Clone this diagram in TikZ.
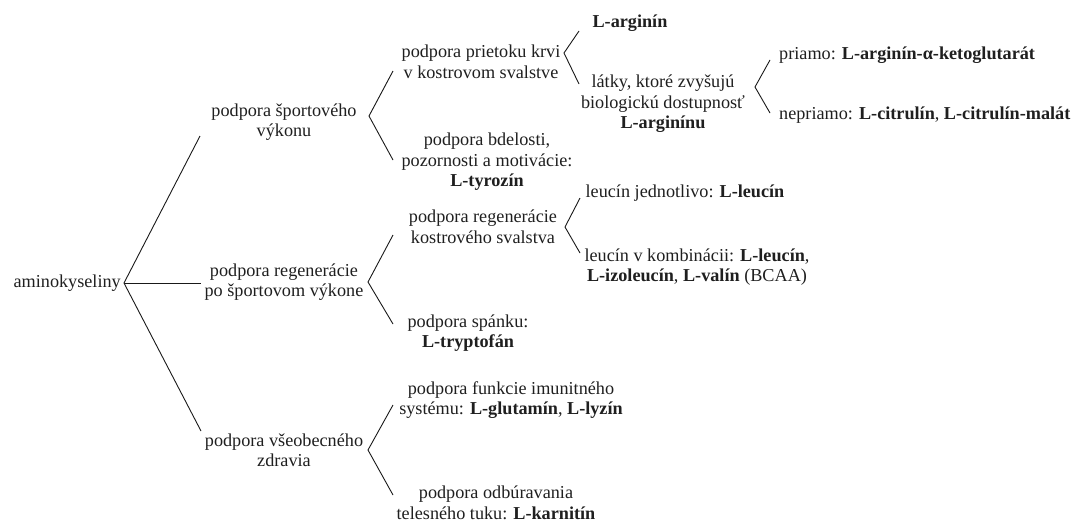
\documentclass[tikz,border=0pt]{standalone}
\usepackage{fontspec}
\setmainfont{Liberation Serif}
\usepackage{xcolor}
\usepackage{tikz}
\usetikzlibrary{positioning,calc}

\begin{document}
\begin{tikzpicture}[
    x=1pt, y=-1pt,
    font=\fontsize{18.2}{20.5}\selectfont,
    txt/.style={align=center, inner sep=0pt, text=black!88},
    vetva/.style={draw=black!90, line width=0.9pt}
]
\useasboundingbox (0,0) rectangle (1076,523);

% koren
\node[txt, anchor=east] (amino) at (121,283) {aminokyseliny};

% prva uroven
\node[txt] (sport) at (284,122) {podpora športového\\výkonu};
\node[txt] (regen) at (284,282) {podpora regenerácie\\po športovom výkone};
\node[txt] (zdravie) at (284,450) {podpora všeobecného\\zdravia};

% druha uroven
\node[txt] (prietok) at (481,62) {podpora prietoku krvi\\v kostrovom svalstve};
\node[txt] (bdelost) at (487,162) {podpora bdelosti,\\pozornosti a motivácie:\\\textbf{L-tyrozín}};
\node[txt] (regkostr) at (483,227) {podpora regenerácie\\kostrového svalstva};
\node[txt] (spanok) at (468,333) {podpora spánku:\\\textbf{L-tryptofán}};
\node[txt] (imunita) at (511,400) {podpora funkcie imunitného\\systému: \textbf{L-glutamín}, \textbf{L-lyzín}};
\node[txt] (tuk) at (496,503) {podpora odbúravania\\telesného tuku: \textbf{L-karnitín}};

% tretia uroven
\node[txt] (arginin) at (630,23) {\textbf{L-arginín}};
\node[txt] (latky) at (663,104) {látky, ktoré zvyšujú\\biologickú dostupnosť\\\textbf{L-arginínu}};
\node[txt] (jednotlivo) at (685,193) {leucín jednotlivo: \textbf{L-leucín}};
\node[txt] (kombinacia) at (697,267) {leucín v kombinácii: \textbf{L-leucín},\\\textbf{L-izoleucín}, \textbf{L-valín} (BCAA)};

% stvrta uroven
\node[txt, anchor=west] (priamo) at (779,55) {priamo: \textbf{L-arginín-α-ketoglutarát}};
\node[txt, anchor=west] (nepriamo) at (779,115) {nepriamo: \textbf{L-citrulín}, \textbf{L-citrulín-malát}};

% body vetvenia
\coordinate (r0) at (124,283);
\coordinate (r1) at (200,136);
\coordinate (r2) at (201,283);
\coordinate (r3) at (201,431);
\coordinate (a0) at (369,116);
\coordinate (a1) at (393,71);
\coordinate (a2) at (393,160);
\coordinate (b0) at (368,282);
\coordinate (b1) at (393,235);
\coordinate (b2) at (393,324);
\coordinate (c0) at (368,450);
\coordinate (c1) at (393,405);
\coordinate (c2) at (393,495);
\coordinate (d0) at (564,53);
\coordinate (d1) at (579,31);
\coordinate (d2) at (579,84);
\coordinate (e0) at (755,87);
\coordinate (e1) at (770,60);
\coordinate (e2) at (770,113);
\coordinate (f0) at (565,227);
\coordinate (f1) at (580,198);
\coordinate (f2) at (580,253);

% vetvy
\draw[vetva] (r1) -- (r0) -- (r3);
\draw[vetva] (r0) -- (r2);
\draw[vetva] (a1) -- (a0) -- (a2);
\draw[vetva] (b1) -- (b0) -- (b2);
\draw[vetva] (c1) -- (c0) -- (c2);
\draw[vetva] (d1) -- (d0) -- (d2);
\draw[vetva] (e1) -- (e0) -- (e2);
\draw[vetva] (f1) -- (f0) -- (f2);

\end{tikzpicture}
\end{document}
